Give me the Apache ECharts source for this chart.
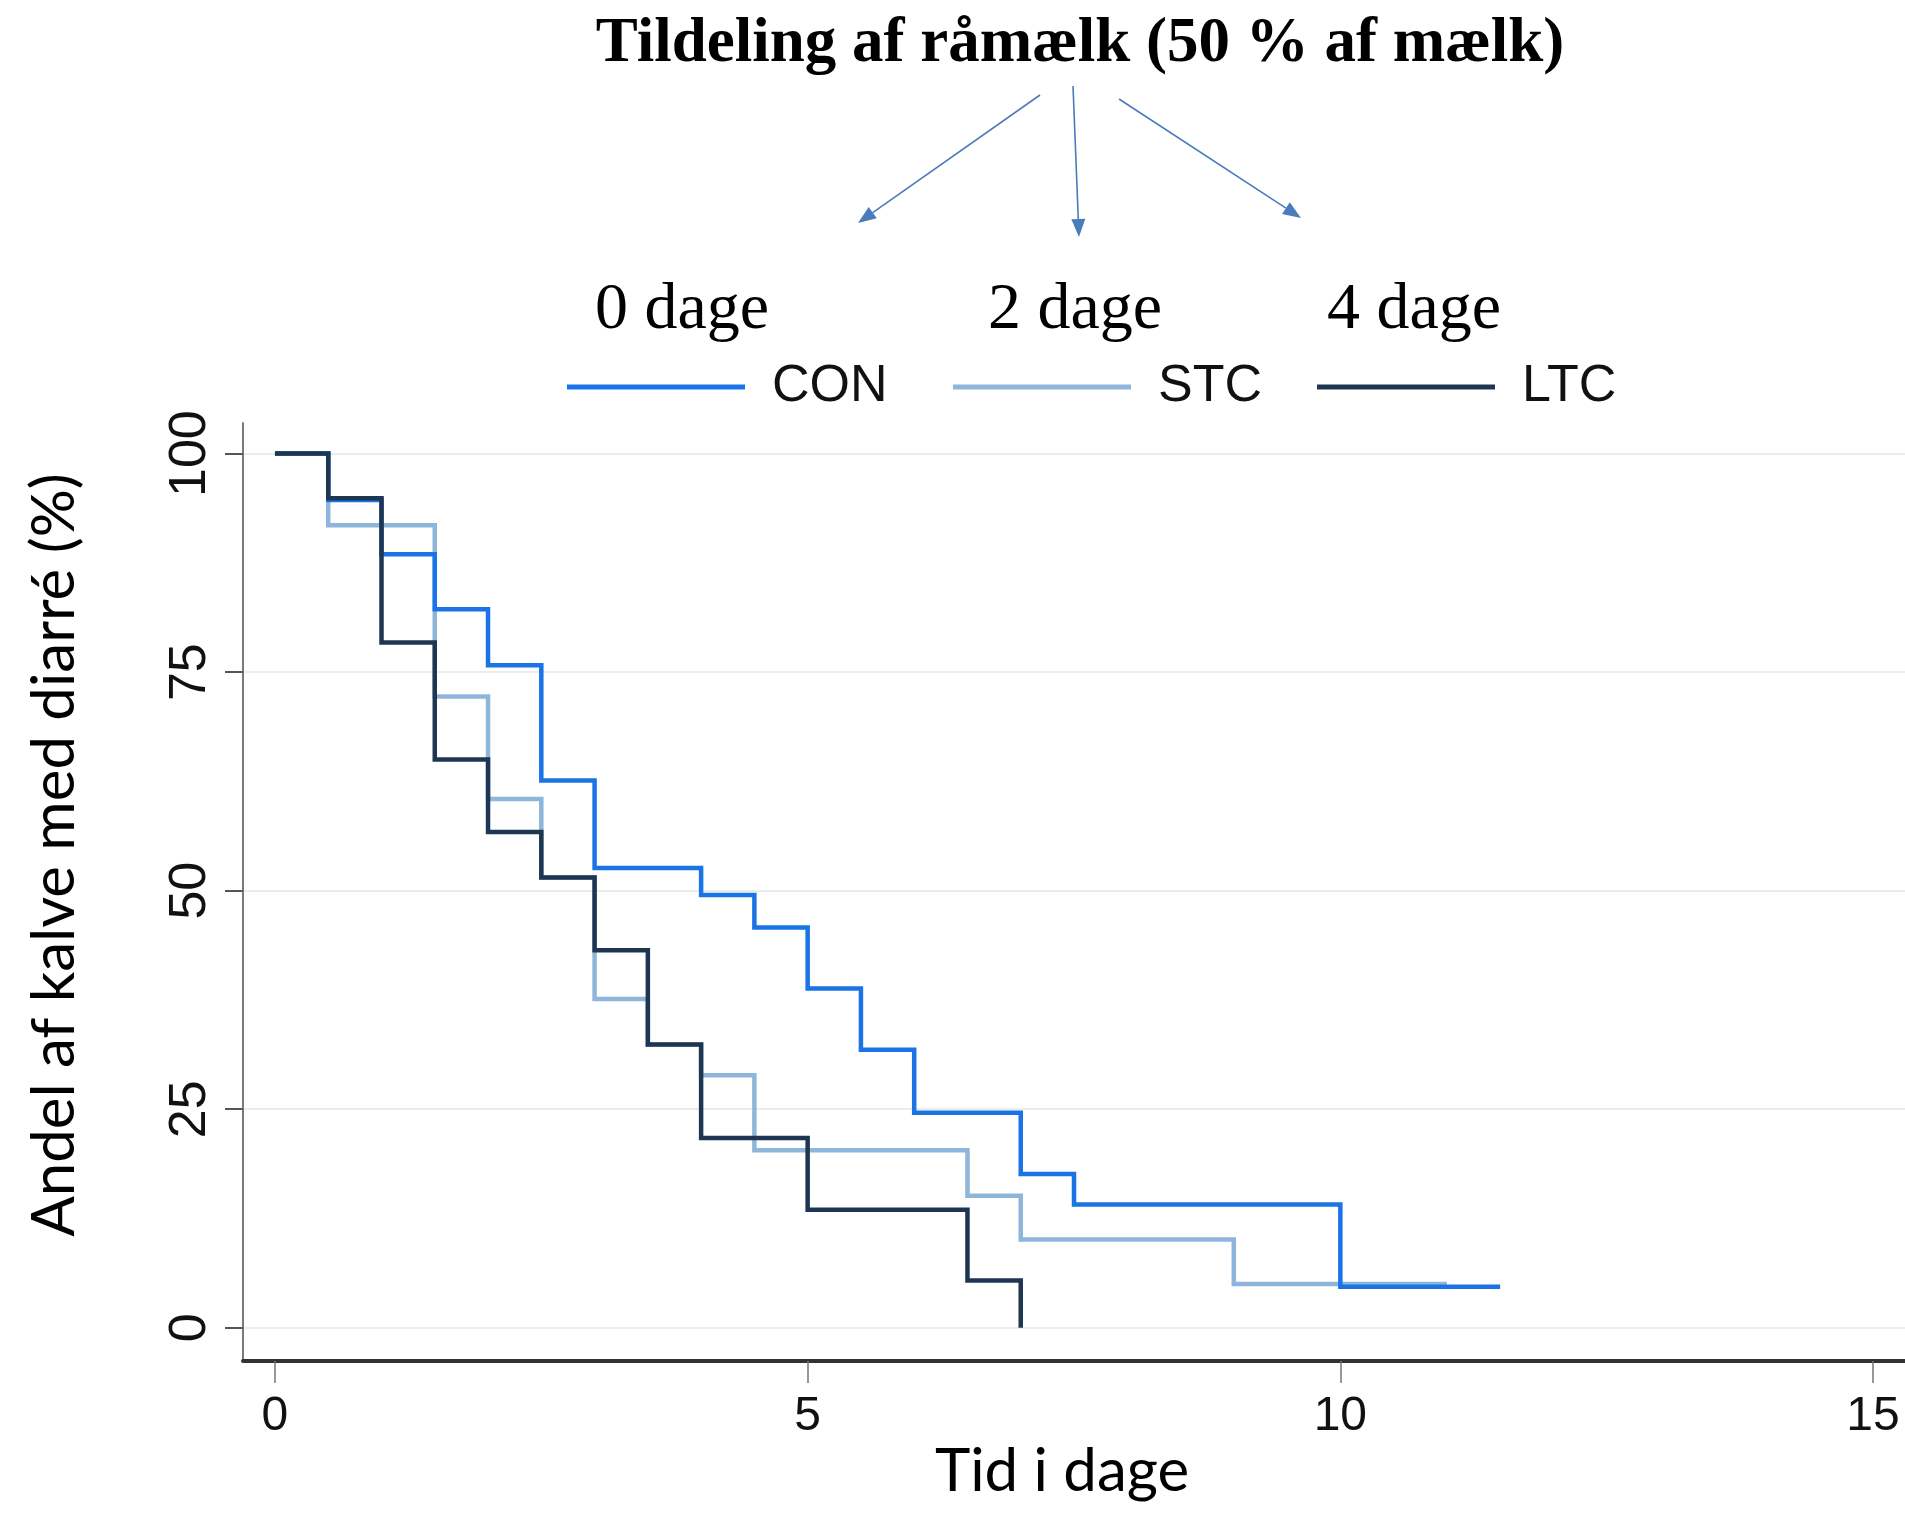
<!DOCTYPE html>
<html>
<head>
<meta charset="utf-8">
<script src="https://cdn.jsdelivr.net/npm/echarts@6/dist/echarts.min.js"></script>
<style>
html,body{margin:0;padding:0;background:#fff;}
#chart{width:1905px;height:1535px;}
</style>
</head>
<body>
<div id="chart"></div>
<script>
// ---- data ----
const seriesNames = ['CON', 'STC', 'LTC'];
const groupLabels = ['0 dage', '2 dage', '4 dage'];
const xTicks = [0, 5, 10, 15];
const yTicks = [0, 25, 50, 75, 100];

const conTime = [0, 0.5, 1, 1.5, 2, 2.5, 3, 4, 4.5, 5, 5.5, 6, 7, 7.5, 10, 11.5];
const conSurv = [100, 94.7, 88.5, 82.2, 75.8, 62.6, 52.6, 49.5, 45.8, 38.8, 31.8, 24.6, 17.6, 14.1, 4.7, 4.7];

const stcTime = [0, 0.5, 1.5, 2, 2.5, 3, 3.5, 4, 4.5, 6.5, 7, 9, 11];
const stcSurv = [100, 91.8, 72.2, 60.5, 51.5, 37.6, 32.4, 28.9, 20.3, 15.1, 10.1, 5.0, 5.0];

const ltcTime = [0, 0.5, 1, 1.5, 2, 2.5, 3, 3.5, 4, 5, 6.5, 7];
const ltcSurv = [100, 94.9, 78.4, 65.0, 56.7, 51.5, 43.2, 32.4, 21.7, 13.5, 5.4, 0];

const titleText = 'Tildeling af råmælk (50 % af mælk)';
const xTitle = 'Tid i dage';
const yTitle = 'Andel af kalve med diarré (%)';

// ---- styling ----
const colors = { CON: '#1a74e6', STC: '#8db6da', LTC: '#1e3652' };
const arrowColor = '#4a7cbc';

function pairs(t, v) { return t.map((x, i) => [x, v[i]]); }

function arrow(x1, y1, x2, y2) {
  const L = 18, W = 7;
  const dx = x2 - x1, dy = y2 - y1, d = Math.hypot(dx, dy);
  const ux = dx / d, uy = dy / d;
  const bx = x2 - ux * L, by = y2 - uy * L;
  return [
    { type: 'line', shape: { x1: x1, y1: y1, x2: bx, y2: by }, style: { stroke: arrowColor, lineWidth: 1.6 } },
    { type: 'polygon', shape: { points: [[x2, y2], [bx - uy * W, by + ux * W], [bx + uy * W, by - ux * W]] }, style: { fill: arrowColor } }
  ];
}

const chart = echarts.init(document.getElementById('chart'));

const lineSeries = (name, t, v, z) => ({
  name: name,
  type: 'line',
  step: 'end',
  data: pairs(t, v),
  symbol: 'none',
  z: z,
  lineStyle: { color: colors[name], width: 4.5, cap: 'butt', join: 'miter' },
  itemStyle: { color: colors[name] },
  emphasis: { disabled: true },
  animation: false
});

const legendLefts = [562, 948, 1312];

const option = {
  backgroundColor: '#ffffff',
  animation: false,
  title: {
    text: titleText,
    left: 1075,
    textAlign: 'center',
    top: 8,
    textStyle: { fontFamily: 'Liberation Serif', fontWeight: 'bold', fontSize: 63, color: '#000' }
  },
  legend: seriesNames.map((n, i) => ({
    data: [n],
    left: legendLefts[i],
    top: 356,
    icon: 'rect',
    itemWidth: 178,
    itemHeight: 5,
    itemGap: 0,
    selectedMode: false,
    textStyle: { fontFamily: 'Liberation Sans', fontSize: 52, color: '#111', padding: [0, 0, 0, 22] }
  })),
  grid: { left: 243, right: 0, top: 423, bottom: 174, containLabel: false },
  xAxis: {
    type: 'value',
    min: -0.3,
    max: 15.3,
    axisLine: { show: true, onZero: false, lineStyle: { color: '#333', width: 4 } },
    axisTick: { show: true, customValues: xTicks, length: 22, lineStyle: { color: '#777', width: 1.5 } },
    axisLabel: { customValues: xTicks, margin: 32, fontFamily: 'Liberation Sans', fontSize: 48, color: '#111' },
    splitLine: { show: false }
  },
  yAxis: {
    type: 'value',
    min: -3.8,
    max: 103.5,
    axisLine: { show: true, onZero: false, lineStyle: { color: '#7a7a7a', width: 2 } },
    axisTick: { show: true, customValues: yTicks, length: 18, lineStyle: { color: '#555', width: 2 } },
    axisLabel: { customValues: yTicks, rotate: 90, margin: 26, fontFamily: 'Liberation Sans', fontSize: 52, color: '#111' },
    splitLine: { show: true, lineStyle: { color: '#ececec', width: 2 } }
  },
  series: [
    lineSeries('CON', conTime, conSurv, 3),
    lineSeries('STC', stcTime, stcSurv, 2),
    lineSeries('LTC', ltcTime, ltcSurv, 4)
  ],
  graphic: [
    ...arrow(1040, 95, 858, 223),
    ...arrow(1073, 86, 1079, 237),
    ...arrow(1119, 99, 1301, 218),
    { type: 'text', left: 595, top: 278, style: { text: groupLabels[0], font: '66px "Liberation Serif"', fill: '#000' } },
    { type: 'text', left: 988, top: 278, style: { text: groupLabels[1], font: '66px "Liberation Serif"', fill: '#000' } },
    { type: 'text', left: 1327, top: 278, style: { text: groupLabels[2], font: '66px "Liberation Serif"', fill: '#000' } },
    { type: 'text', x: 1062, y: 1472, style: { text: xTitle, font: '60px Lato', fill: '#000', align: 'center', verticalAlign: 'middle' } },
    { type: 'text', x: 55, y: 855, rotation: Math.PI / 2, style: { text: yTitle, font: '60px Lato', fill: '#000', align: 'center', verticalAlign: 'middle' } }
  ]
};

chart.setOption(option);
</script>
</body>
</html>
